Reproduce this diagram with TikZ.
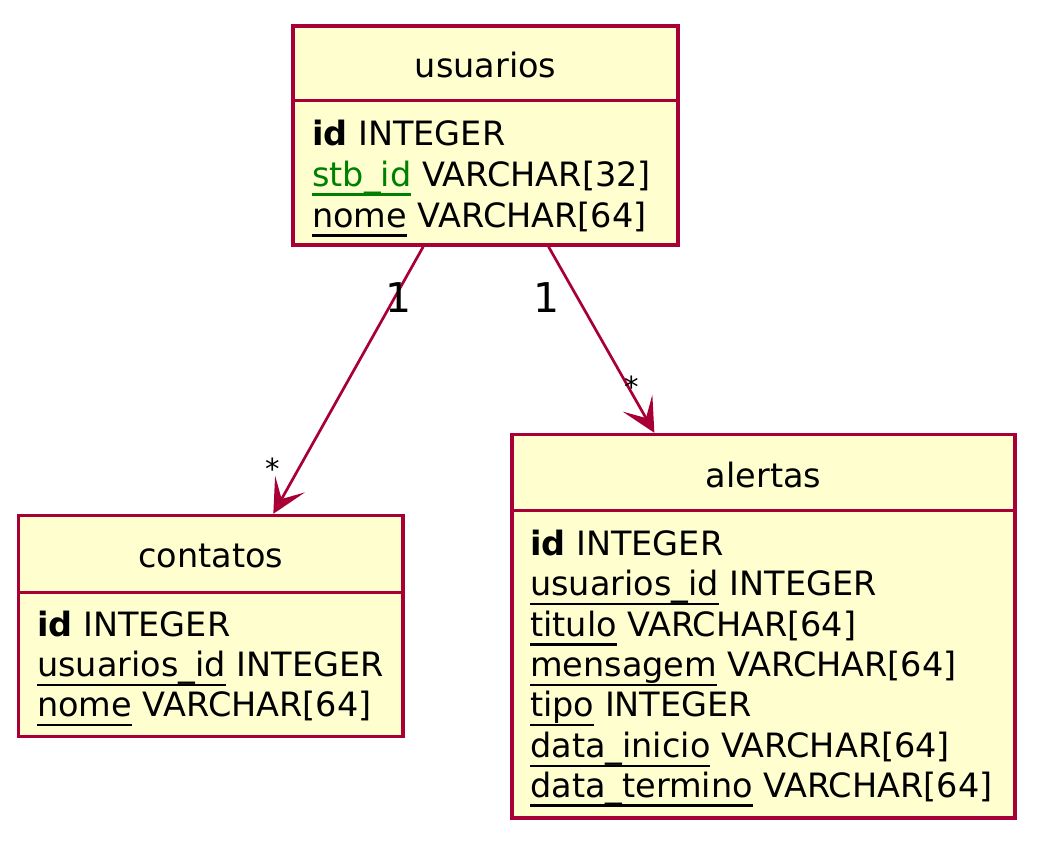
\documentclass[tikz,border=0pt]{standalone}
\usepackage{fontspec}
\setmainfont{DejaVu Sans}
\usetikzlibrary{arrows.meta}
\definecolor{plred}{HTML}{A80036}
\definecolor{plfill}{HTML}{FEFECE}
\definecolor{plgreen}{HTML}{008000}
\newcommand\ulfield[1]{\setbox0\hbox{#1}\rlap{\rule[-9.5pt]{\wd0}{2.4pt}}\box0\relax}
\newcommand\fsz{\fontsize{33.5pt}{40pt}\selectfont}
\tikzset{
  tbl/.style={draw=plred, fill=plfill, line width=3.4pt, inner sep=0pt, rectangle},
  sep/.style={draw=plred, line width=3.4pt},
  ttl/.style={anchor=base, inner sep=0pt, font=\fsz},
  fld/.style={anchor=base west, inner sep=0pt, font=\fsz},
  rel/.style={draw=plred, line width=2.7pt, -{Stealth[length=34pt,width=34pt,inset=17pt]}},
  one/.style={anchor=base, inner sep=0pt, font=\fontsize{41pt}{48pt}\selectfont},
  many/.style={anchor=base, inner sep=0pt, font=\fontsize{29pt}{34pt}\selectfont}
}
\begin{document}
\begin{tikzpicture}[x=1pt,y=-1pt]
\useasboundingbox (0,0) rectangle (1046,849);
% tables
\node[tbl, minimum width=385pt, minimum height=219pt] (usuarios) at (485.5,135.5) {};
\node[tbl, minimum width=384.5pt, minimum height=221pt] (contatos) at (210.75,626) {};
\node[tbl, minimum width=503pt, minimum height=383.5pt] (alertas) at (763.5,626.25) {};
% separators
\coordinate (ud) at (0,100.5);
\coordinate (cd) at (0,592.5);
\coordinate (ad) at (0,510.5);
\draw[sep] (usuarios.west |- ud) -- (usuarios.east |- ud);
\draw[sep] (contatos.west |- cd) -- (contatos.east |- cd);
\draw[sep] (alertas.west |- ad) -- (alertas.east |- ad);
% titles
\node[ttl] (ut) at (485.5,77) {usuarios};
\node[ttl] (ct) at (210.75,567) {contatos};
\node[ttl] (at) at (763.5,487) {alertas};
% usuarios fields
\node[fld] (u1) at (312,145) {\textbf{id} INTEGER};
\node[fld] (u2) at (312,186) {\textcolor{plgreen}{\ulfield{stb\_id}} VARCHAR[32]};
\node[fld] (u3) at (312,227) {\ulfield{nome} VARCHAR[64]};
% contatos fields
\node[fld] (c1) at (37,636.5) {\textbf{id} INTEGER};
\node[fld] (c2) at (37,676.7) {\ulfield{usuarios\_id} INTEGER};
\node[fld] (c3) at (37,716.7) {\ulfield{nome} VARCHAR[64]};
% alertas fields
\node[fld] (a1) at (530,555) {\textbf{id} INTEGER};
\node[fld] (a2) at (530,595.5) {\ulfield{usuarios\_id} INTEGER};
\node[fld] (a3) at (530,636) {\ulfield{titulo} VARCHAR[64]};
\node[fld] (a4) at (530,676.5) {\ulfield{mensagem} VARCHAR[64]};
\node[fld] (a5) at (530,716.7) {\ulfield{tipo} INTEGER};
\node[fld] (a6) at (530,757.5) {\ulfield{data\_inicio} VARCHAR[64]};
\node[fld] (a7) at (530,797) {\ulfield{data\_termino} VARCHAR[64]};
% relations
\draw[rel] (usuarios) -- (contatos);
\draw[rel] (usuarios) -- (alertas);
\node[one] (m1) at (398.5,312) {1};
\node[one] (m2) at (546.5,312) {1};
\node[many] (m3) at (273,479) {*};
\node[many] (m4) at (632,397) {*};
\end{tikzpicture}
\end{document}
